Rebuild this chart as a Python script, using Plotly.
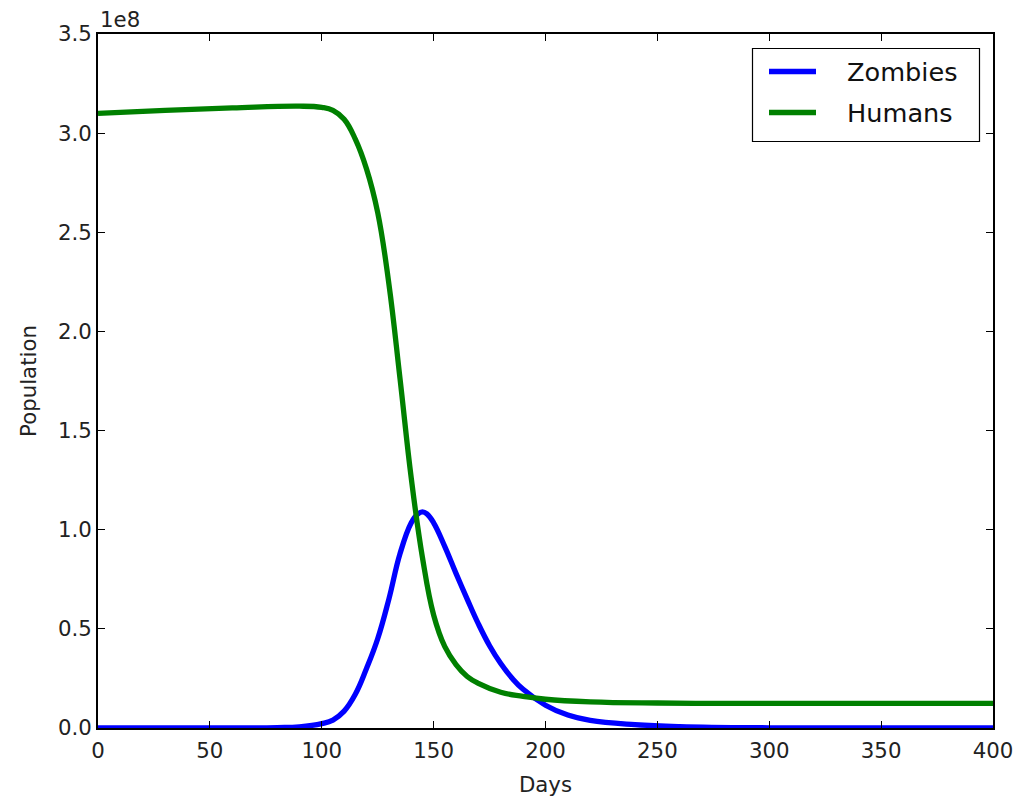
import plotly.graph_objects as go

# Zombie outbreak: population over time
days_h = [0, 30, 60, 90, 100, 105, 110, 115, 120, 125, 130, 135, 140, 145,
          150, 155, 160, 165, 170, 180, 190, 200, 220, 250, 300, 400]
humans = [3.100e8, 3.115e8, 3.127e8, 3.136e8, 3.130e8, 3.115e8, 3.070e8, 2.970e8,
          2.820e8, 2.600e8, 2.240e8, 1.760e8, 1.260e8, 0.860e8, 0.570e8, 0.410e8,
          0.320e8, 0.260e8, 0.225e8, 0.180e8, 0.160e8, 0.145e8, 0.132e8, 0.126e8,
          0.124e8, 0.124e8]

days_z = [0, 50, 80, 90, 100, 105, 110, 115, 120, 125, 130, 135, 140, 143, 145, 147,
          150, 155, 160, 165, 170, 175, 180, 185, 190, 200, 210, 220, 240, 260, 300, 400]
zombies = [0.0, 0.0, 0.002e8, 0.006e8, 0.022e8, 0.040e8, 0.085e8, 0.170e8, 0.300e8,
           0.450e8, 0.650e8, 0.880e8, 1.035e8, 1.080e8, 1.090e8, 1.080e8, 1.035e8,
           0.915e8, 0.780e8, 0.650e8, 0.525e8, 0.415e8, 0.325e8, 0.252e8, 0.195e8,
           0.115e8, 0.065e8, 0.038e8, 0.017e8, 0.007e8, 0.001e8, 0.0]

y_ticks = [0, 0.5e8, 1.0e8, 1.5e8, 2.0e8, 2.5e8, 3.0e8, 3.5e8]
y_tick_labels = ["0.0", "0.5", "1.0", "1.5", "2.0", "2.5", "3.0", "3.5"]
x_ticks = [0, 50, 100, 150, 200, 250, 300, 350, 400]

series = [("Zombies", days_z, zombies, "#0000ff"),
          ("Humans", days_h, humans, "#008000")]

FONT = "DejaVu Sans"
TEXT = "#222222"

# plot-area geometry in pixels, used to place the legend box
W, H = 1022, 798
L, R, T, B = 98, 29, 34, 70
PW, PH = W - L - R, H - T - B


def px_x(p):
    return (p - L) / PW


def px_y(p):
    return (H - B - p) / PH


fig = go.Figure()
for name, xs, ys, color in series:
    fig.add_trace(go.Scatter(x=xs, y=ys, name=name, mode="lines", showlegend=False,
                             line=dict(color=color, width=5.3, shape="spline", smoothing=1.2)))

axis_common = dict(showline=True, linecolor="black", linewidth=1.8, mirror="ticks",
                   ticks="inside", ticklen=7, tickwidth=1, tickcolor="black",
                   showgrid=False, zeroline=False, automargin=False,
                   tickfont=dict(family=FONT, size=21.3, color=TEXT))

fig.update_xaxes(range=[0, 400], tickvals=x_ticks, ticklabelstandoff=3,
                 title=dict(text="Days", font=dict(family=FONT, size=21.3, color=TEXT),
                            standoff=15),
                 **axis_common)
fig.update_yaxes(range=[0, 3.5e8], tickvals=y_ticks, ticktext=y_tick_labels,
                 title=dict(text="Population", font=dict(family=FONT, size=21.3, color=TEXT),
                            standoff=16),
                 **axis_common)

fig.add_annotation(text="1e8", xref="paper", yref="paper", x=0, y=1,
                   xanchor="left", yanchor="bottom", showarrow=False,
                   font=dict(family=FONT, size=21.3, color=TEXT))

# legend box with line samples and labels
shapes = [dict(type="rect", xref="paper", yref="paper",
               x0=px_x(752.5), x1=px_x(979.5), y0=px_y(141.5), y1=px_y(48.5),
               line=dict(color="black", width=1.2), fillcolor="white", layer="above")]
row_y = [71.5, 112.5]
for (name, _, _, color), ry in zip(series, row_y):
    shapes.append(dict(type="line", xref="paper", yref="paper",
                       x0=px_x(769), x1=px_x(816), y0=px_y(ry), y1=px_y(ry),
                       line=dict(color=color, width=5.3), layer="above"))
    fig.add_annotation(text=name, xref="paper", yref="paper",
                       x=px_x(845), y=px_y(ry), xanchor="left", yanchor="middle",
                       showarrow=False,
                       font=dict(family=FONT, size=25.6, color="#111111"))

fig.update_layout(
    width=W, height=H,
    margin=dict(l=L, r=R, t=T, b=B),
    paper_bgcolor="white", plot_bgcolor="white",
    showlegend=False,
    shapes=shapes,
)

fig.write_html("out.html")
